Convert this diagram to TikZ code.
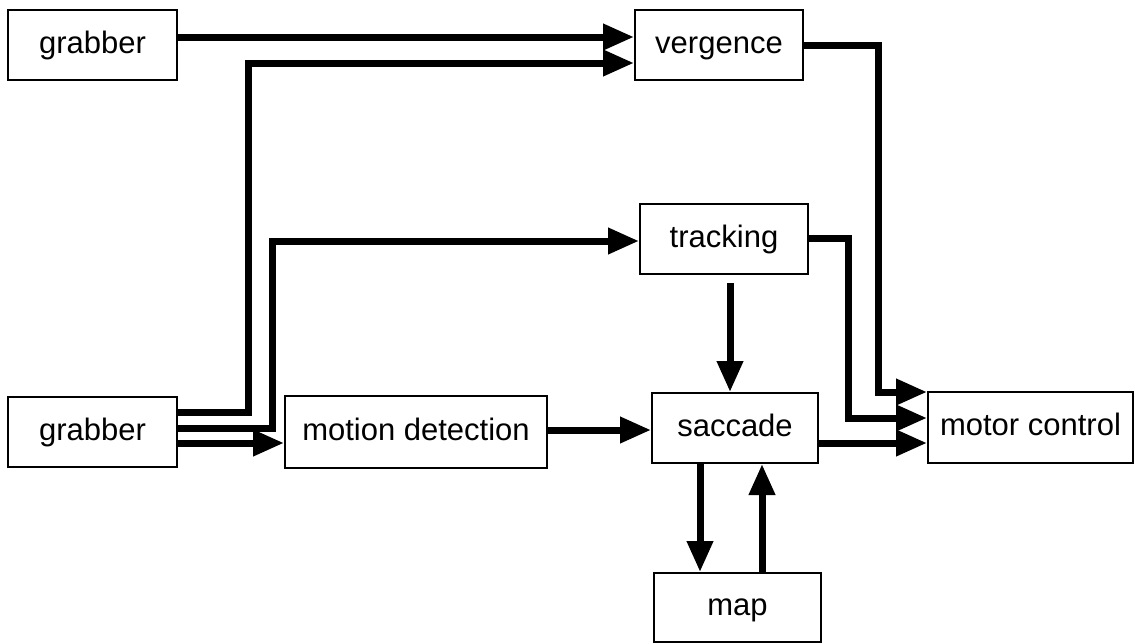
\documentclass[tikz,border=0pt]{standalone}
\usepackage{fontspec}
\setmainfont{Liberation Sans}
\usetikzlibrary{arrows.meta}
\begin{document}
\begin{tikzpicture}[x=1pt,y=-1pt,
  box/.style={draw,line width=2pt,minimum height=70pt,inner sep=0pt,text height=22.5pt,text depth=6pt,font=\fontsize{31}{36}\selectfont},
  arr/.style={line width=7pt,-{Triangle[length=31pt,width=25pt]}}]
\useasboundingbox (0,0) rectangle (1135,643);
\node[box,minimum width=169pt] (grabA) at (92.5,45) {grabber};
\node[box,minimum width=168pt] (verg) at (719,45) {vergence};
\node[box,minimum width=168pt] (track) at (724,239) {tracking};
\node[box,minimum width=169pt] (grabB) at (92.5,432) {grabber};
\node[box,minimum width=262pt,minimum height=72pt] (motion) at (416,432) {motion detection};
\node[box,minimum width=166pt] (sacc) at (735,428) {saccade};
\node[box,minimum width=205pt,minimum height=71pt] (motor) at (1030.5,427.5) {motor control};
\node[box,minimum width=167pt,minimum height=69pt] (map) at (737.5,607.5) {map};
% helper coordinates
\coordinate (xA) at (248,0);
\coordinate (xB) at (272,0);
\coordinate (xV) at (878,0);
\coordinate (xT) at (848,0);
\coordinate (vin1) at ([yshift=8pt]verg.west);
\coordinate (vin2) at ([yshift=-18pt]verg.west);
\coordinate (tin) at ([yshift=-2pt]track.west);
\coordinate (tout) at ([yshift=1pt]track.east);
\coordinate (gB1) at ([yshift=20pt]grabB.east);
\coordinate (gB2) at ([yshift=4pt]grabB.east);
\coordinate (gB3) at ([yshift=-11pt]grabB.east);
\coordinate (sin) at ([yshift=-2pt]sacc.west);
\coordinate (sout) at ([yshift=-15pt]sacc.east);
\coordinate (mc1) at ([yshift=-1pt]motor.north west);
\coordinate (mc2) at ([yshift=9.5pt]motor.west);
\coordinate (mc3) at (motor.west |- sout);
\coordinate (down) at ([xshift=-35pt]sacc.south);
\coordinate (up) at ([xshift=24.5pt]map.north);
\coordinate (tdown) at ([xshift=6pt,yshift=-8pt]track.south);
% connectors
\draw[arr] (grabA.east |- vin1) -- (vin1);
\draw[arr] (gB1) -| (xA |- vin2) -- (vin2);
\draw[arr] (gB2) -| (xB |- tin) -- (tin);
\draw[arr] (gB3) -- (motion.west |- gB3);
\draw[arr] (motion.east |- sin) -- (sin);
\draw[arr] (tdown) -- (sacc.north -| tdown);
\draw[arr] (down) -- (down |- map.north);
\draw[arr] (up) -- (up |- sacc.south);
\draw[arr] (verg.east) -| (xV |- mc1) -- (mc1);
\draw[arr] (tout) -| (xT |- mc2) -- (mc2);
\draw[arr] (sout) -- (mc3);
\end{tikzpicture}
\end{document}
